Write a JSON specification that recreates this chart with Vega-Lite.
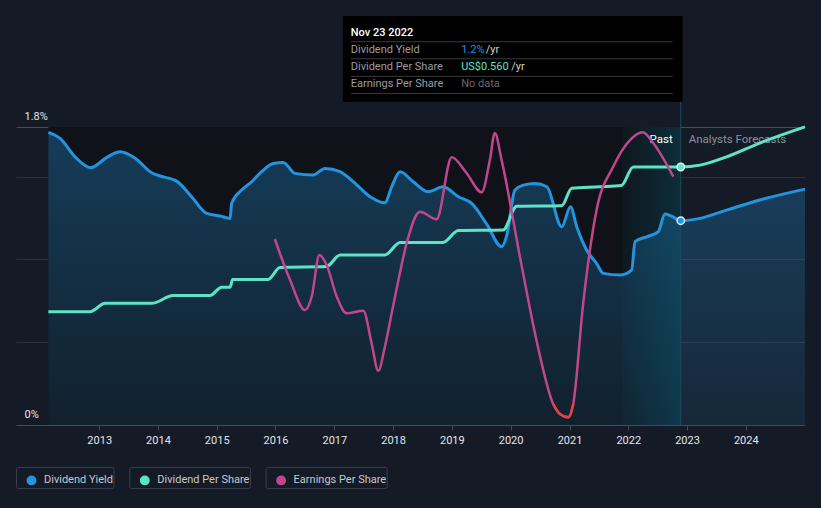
{
  "$schema": "https://vega.github.io/schema/vega-lite/v6.json",
  "width": 789,
  "height": 298,
  "autosize": {"type": "none"},
  "padding": {"left": 16, "top": 127, "right": 16, "bottom": 83},
  "background": "#151b26",
  "config": {"view": {"stroke": null}, "font": "Roboto"},
  "datasets": {
    "tip": [{"date": "2022-11-23", "label": "Nov 23 2022", "yield": 1.234, "dps": 0.56}],
    "yield": [
      {"date": "2012-02-20", "yield": 1.768},
      {"date": "2012-05-03", "yield": 1.731},
      {"date": "2012-08-04", "yield": 1.620},
      {"date": "2012-11-09", "yield": 1.554},
      {"date": "2013-02-18", "yield": 1.617},
      {"date": "2013-05-11", "yield": 1.650},
      {"date": "2013-08-12", "yield": 1.611},
      {"date": "2013-11-23", "yield": 1.524},
      {"date": "2014-01-14", "yield": 1.504},
      {"date": "2014-04-27", "yield": 1.473},
      {"date": "2014-07-29", "yield": 1.379},
      {"date": "2014-10-31", "yield": 1.278},
      {"date": "2015-01-22", "yield": 1.262},
      {"date": "2015-03-25", "yield": 1.248},
      {"date": "2015-04-04", "yield": 1.339},
      {"date": "2015-06-05", "yield": 1.419},
      {"date": "2015-08-06", "yield": 1.469},
      {"date": "2015-10-07", "yield": 1.530},
      {"date": "2015-12-18", "yield": 1.580},
      {"date": "2016-02-18", "yield": 1.586},
      {"date": "2016-05-01", "yield": 1.520},
      {"date": "2016-08-23", "yield": 1.510},
      {"date": "2016-11-03", "yield": 1.550},
      {"date": "2017-02-05", "yield": 1.530},
      {"date": "2017-04-29", "yield": 1.469},
      {"date": "2017-08-11", "yield": 1.379},
      {"date": "2017-11-11", "yield": 1.342},
      {"date": "2017-12-23", "yield": 1.439},
      {"date": "2018-02-13", "yield": 1.530},
      {"date": "2018-05-06", "yield": 1.469},
      {"date": "2018-08-07", "yield": 1.409},
      {"date": "2018-11-07", "yield": 1.439},
      {"date": "2019-02-10", "yield": 1.379},
      {"date": "2019-05-04", "yield": 1.339},
      {"date": "2019-08-05", "yield": 1.214},
      {"date": "2019-11-06", "yield": 1.077},
      {"date": "2019-12-07", "yield": 1.141},
      {"date": "2020-01-28", "yield": 1.419},
      {"date": "2020-03-20", "yield": 1.449},
      {"date": "2020-06-01", "yield": 1.458},
      {"date": "2020-08-13", "yield": 1.439},
      {"date": "2020-11-13", "yield": 1.197},
      {"date": "2021-01-07", "yield": 1.318},
      {"date": "2021-02-15", "yield": 1.197},
      {"date": "2021-04-17", "yield": 1.057},
      {"date": "2021-06-18", "yield": 0.976},
      {"date": "2021-07-30", "yield": 0.916},
      {"date": "2021-11-10", "yield": 0.906},
      {"date": "2022-01-22", "yield": 0.936},
      {"date": "2022-02-12", "yield": 1.107},
      {"date": "2022-04-25", "yield": 1.137},
      {"date": "2022-07-06", "yield": 1.167},
      {"date": "2022-08-17", "yield": 1.274},
      {"date": "2022-09-27", "yield": 1.262},
      {"date": "2022-11-23", "yield": 1.234},
      {"date": "2023-03-23", "yield": 1.248},
      {"date": "2023-09-04", "yield": 1.298},
      {"date": "2024-03-28", "yield": 1.359},
      {"date": "2025-01-03", "yield": 1.425}
    ],
    "dps": [
      {"date": "2012-02-20", "dps": 0.246},
      {"date": "2012-11-05", "dps": 0.246},
      {"date": "2013-02-07", "dps": 0.264},
      {"date": "2013-11-23", "dps": 0.264},
      {"date": "2014-04-06", "dps": 0.281},
      {"date": "2014-11-20", "dps": 0.281},
      {"date": "2015-02-01", "dps": 0.299},
      {"date": "2015-03-25", "dps": 0.299},
      {"date": "2015-04-10", "dps": 0.316},
      {"date": "2015-11-17", "dps": 0.316},
      {"date": "2016-01-29", "dps": 0.342},
      {"date": "2016-11-13", "dps": 0.344},
      {"date": "2017-02-06", "dps": 0.369},
      {"date": "2017-11-11", "dps": 0.369},
      {"date": "2018-02-13", "dps": 0.396},
      {"date": "2018-11-07", "dps": 0.396},
      {"date": "2019-02-10", "dps": 0.422},
      {"date": "2019-11-15", "dps": 0.423},
      {"date": "2020-02-08", "dps": 0.475},
      {"date": "2020-11-13", "dps": 0.476},
      {"date": "2021-01-15", "dps": 0.514},
      {"date": "2021-07-09", "dps": 0.517},
      {"date": "2021-11-20", "dps": 0.520},
      {"date": "2022-02-01", "dps": 0.560},
      {"date": "2022-11-23", "dps": 0.560},
      {"date": "2023-03-23", "dps": 0.564},
      {"date": "2023-09-04", "dps": 0.582},
      {"date": "2024-03-28", "dps": 0.612},
      {"date": "2025-01-03", "dps": 0.647}
    ],
    "eps": [
      {"date": "2015-12-28", "eps": 2.384},
      {"date": "2016-04-01", "eps": 1.792},
      {"date": "2016-07-02", "eps": 1.359},
      {"date": "2016-08-13", "eps": 1.551},
      {"date": "2016-09-30", "eps": 2.153},
      {"date": "2016-11-14", "eps": 2.009},
      {"date": "2017-01-16", "eps": 1.551},
      {"date": "2017-03-18", "eps": 1.312},
      {"date": "2017-06-30", "eps": 1.350},
      {"date": "2017-08-20", "eps": 0.883},
      {"date": "2017-10-01", "eps": 0.483},
      {"date": "2017-11-11", "eps": 0.830},
      {"date": "2017-12-23", "eps": 1.312},
      {"date": "2018-02-03", "eps": 1.792},
      {"date": "2018-03-26", "eps": 2.322},
      {"date": "2018-06-17", "eps": 2.778},
      {"date": "2018-09-28", "eps": 2.668},
      {"date": "2018-12-31", "eps": 3.563},
      {"date": "2019-04-03", "eps": 3.332},
      {"date": "2019-07-05", "eps": 3.058},
      {"date": "2019-08-25", "eps": 3.524},
      {"date": "2019-09-25", "eps": 3.913},
      {"date": "2019-11-06", "eps": 3.524},
      {"date": "2020-02-28", "eps": 2.128},
      {"date": "2020-06-12", "eps": 0.898},
      {"date": "2020-09-22", "eps": 0.0},
      {"date": "2020-11-02", "eps": -0.141},
      {"date": "2020-12-24", "eps": -0.189},
      {"date": "2021-01-24", "eps": 0.0},
      {"date": "2021-03-27", "eps": 1.456},
      {"date": "2021-06-18", "eps": 2.802},
      {"date": "2021-09-29", "eps": 3.427},
      {"date": "2022-01-12", "eps": 3.812},
      {"date": "2022-04-01", "eps": 3.924},
      {"date": "2022-06-06", "eps": 3.765},
      {"date": "2022-10-08", "eps": 3.283}
    ]
  },
  "encoding": {
    "x": {
      "field": "date",
      "type": "temporal",
      "scale": {"domain": [{"year": 2011, "month": 8, "date": 3}, {"year": 2025, "month": 1, "date": 3}], "nice": false},
      "axis": {
        "title": null,
        "values": [
          {"year": 2013, "month": 1, "date": 1}, {"year": 2014, "month": 1, "date": 1},
          {"year": 2015, "month": 1, "date": 1}, {"year": 2016, "month": 1, "date": 1},
          {"year": 2017, "month": 1, "date": 1}, {"year": 2018, "month": 1, "date": 1},
          {"year": 2019, "month": 1, "date": 1}, {"year": 2020, "month": 1, "date": 1},
          {"year": 2021, "month": 1, "date": 1}, {"year": 2022, "month": 1, "date": 1},
          {"year": 2023, "month": 1, "date": 1}, {"year": 2024, "month": 1, "date": 1}
        ],
        "format": "%Y",
        "grid": false,
        "labelFont": "Roboto",
        "labelFontSize": 11,
        "labelColor": "#e3e5e8",
        "labelPadding": 4,
        "labelFlush": false,
        "tickColor": "#454b56",
        "tickSize": 5,
        "domainColor": "#454b56"
      }
    }
  },
  "layer": [
    {
      "data": {"name": "yield"},
      "layer": [
        {
          "data": {"name": "tip"},
          "mark": {"type": "rect", "fill": "#0f1319"},
          "encoding": {
            "x": {"datum": {"year": 2012, "month": 2, "date": 20}, "type": "temporal"},
            "x2": {"field": "date"},
            "y": {"datum": 0, "type": "quantitative"},
            "y2": {"datum": 1.8}
          }
        },
        {
          "mark": {
            "type": "area",
            "interpolate": "monotone",
            "fill": {"gradient": "linear", "x1": 0, "y1": 0, "x2": 0, "y2": 1,
              "stops": [{"offset": 0, "color": "rgba(35,148,223,0.32)"}, {"offset": 1, "color": "rgba(35,148,223,0.10)"}]}
          },
          "encoding": {
            "y": {
              "field": "yield",
              "type": "quantitative",
              "scale": {"domain": [0, 1.8], "nice": false, "zero": false},
              "axis": {
                "title": null,
                "values": [0, 0.5, 1, 1.5, 1.8],
                "labelExpr": "datum.value == 0 || datum.value == 1.8 ? datum.value + '%' : ''",
                "ticks": false,
                "tickSize": 0,
                "domain": false,
                "grid": true,
                "gridColor": {"condition": {"test": "datum.value == 1.8", "value": "rgba(255,255,255,0.22)"}, "value": "rgba(255,255,255,0.09)"},
                "labelAlign": "left",
                "labelBaseline": "alphabetic",
                "labelPadding": -8,
                "labelOffset": -8,
                "labelFont": "Roboto",
                "labelFontSize": 11,
                "labelColor": "#e3e5e8",
                "labelFlush": false,
                "labelBound": false,
                "labelOverlap": false
              }
            }
          }
        },
        {
          "data": {"name": "tip"},
          "mark": {
            "type": "rect",
            "fill": {"gradient": "linear", "x1": 0, "y1": 0, "x2": 1, "y2": 0,
              "stops": [{"offset": 0, "color": "rgba(0,160,200,0.03)"}, {"offset": 1, "color": "rgba(0,160,200,0.19)"}]}
          },
          "encoding": {
            "x": {"datum": {"year": 2021, "month": 11, "date": 23}, "type": "temporal"},
            "x2": {"field": "date"},
            "y": {"datum": 0, "type": "quantitative"},
            "y2": {"datum": 1.8}
          }
        },
        {
          "data": {"name": "tip"},
          "mark": {"type": "rule", "color": "#1c4b5b", "strokeWidth": 1},
          "encoding": {
            "y": {"datum": 0, "type": "quantitative"},
            "y2": {"datum": 2.47}
          }
        },
        {
          "mark": {"type": "line", "interpolate": "monotone", "strokeWidth": 3},
          "encoding": {
            "y": {"field": "yield", "type": "quantitative"},
            "color": {
              "datum": "Dividend Yield",
              "type": "nominal",
              "scale": {"domain": ["Dividend Yield", "Dividend Per Share", "Earnings Per Share"], "range": ["#2394df", "#5de4c7", "#c2468c"]},
              "legend": {
                "orient": "none",
                "legendX": 0,
                "legendY": 339.5,
                "direction": "horizontal",
                "title": null,
                "symbolType": "circle",
                "symbolSize": 70,
                "labelFont": "Roboto",
                "labelFontSize": 11,
                "labelColor": "#c5c8ce",
                "labelLimit": 300,
                "columnPadding": 15.3,
                "padding": 0,
                "offset": 0,
                "encode": {
                  "entries": {"update": {
                    "stroke": {"value": "#3a404b"},
                    "strokeWidth": {"value": 1},
                    "cornerRadius": {"value": 2},
                    "fill": {"value": "transparent"},
                    "width": {"signal": "datum.index == 0 ? 110 : (datum.index == 1 ? 133.5 : 134.5)"},
                    "height": {"value": 27}
                  }},
                  "symbols": {"update": {
                    "x": {"value": 15.5},
                    "y": {"value": 13.5},
                    "fill": {"scale": "color", "field": "value"},
                    "stroke": {"value": "transparent"},
                    "opacity": {"value": 1}
                  }},
                  "labels": {"update": {
                    "x": {"value": 28},
                    "y": {"value": 13.5},
                    "baseline": {"value": "middle"}
                  }}
                }
              }
            }
          }
        },
        {
          "data": {"name": "tip"},
          "mark": {"type": "point", "filled": true, "size": 55, "fill": "#2394df", "stroke": "#e2ebf3", "strokeWidth": 1.5, "opacity": 1, "strokeOpacity": 1},
          "encoding": {"y": {"field": "yield", "type": "quantitative"}}
        },
        {
          "data": {"name": "tip"},
          "mark": {"type": "text", "text": "Past", "align": "right", "baseline": "alphabetic", "dx": -8, "fontSize": 11.5, "color": "#ffffff"},
          "encoding": {"y": {"datum": 1.703, "type": "quantitative"}}
        },
        {
          "data": {"name": "tip"},
          "mark": {"type": "text", "text": "Analysts Forecasts", "align": "left", "baseline": "alphabetic", "dx": 8, "fontSize": 11.5, "color": "#8b9099"},
          "encoding": {"y": {"datum": 1.703, "type": "quantitative"}}
        },
        {
          "data": {"name": "tip"},
          "mark": {"type": "rect", "fill": "#000000", "xOffset": -338, "x2Offset": 2},
          "encoding": {
            "x2": {"field": "date"},
            "y": {"datum": 2.47, "type": "quantitative"},
            "y2": {"datum": 1.953}
          }
        },
        {
          "data": {"name": "tip"},
          "mark": {"type": "rule", "color": "#3a3a3a", "strokeWidth": 1, "xOffset": -330, "x2Offset": -8},
          "encoding": {"x2": {"field": "date"}, "y": {"datum": 2.315, "type": "quantitative"}}
        },
        {
          "data": {"name": "tip"},
          "mark": {"type": "rule", "color": "#3a3a3a", "strokeWidth": 1, "xOffset": -330, "x2Offset": -8},
          "encoding": {"x2": {"field": "date"}, "y": {"datum": 2.212, "type": "quantitative"}}
        },
        {
          "data": {"name": "tip"},
          "mark": {"type": "rule", "color": "#3a3a3a", "strokeWidth": 1, "xOffset": -330, "x2Offset": -8},
          "encoding": {"x2": {"field": "date"}, "y": {"datum": 2.106, "type": "quantitative"}}
        },
        {
          "data": {"name": "tip"},
          "mark": {"type": "rule", "color": "#3a3a3a", "strokeWidth": 1, "xOffset": -330, "x2Offset": -8},
          "encoding": {"x2": {"field": "date"}, "y": {"datum": 2.003, "type": "quantitative"}}
        },
        {
          "data": {"name": "tip"},
          "mark": {"type": "text", "align": "left", "baseline": "alphabetic", "dx": -330, "fontSize": 11, "fontWeight": 500, "color": "#ffffff"},
          "encoding": {"text": {"field": "label"}, "y": {"datum": 2.352, "type": "quantitative"}}
        },
        {
          "data": {"name": "tip"},
          "mark": {"type": "text", "text": "Dividend Yield", "align": "left", "baseline": "alphabetic", "dx": -330, "fontSize": 11, "color": "#9a9da3"},
          "encoding": {"y": {"datum": 2.248, "type": "quantitative"}}
        },
        {
          "data": {"name": "tip"},
          "mark": {"type": "text", "text": "Dividend Per Share", "align": "left", "baseline": "alphabetic", "dx": -330, "fontSize": 11, "color": "#9a9da3"},
          "encoding": {"y": {"datum": 2.144, "type": "quantitative"}}
        },
        {
          "data": {"name": "tip"},
          "mark": {"type": "text", "text": "Earnings Per Share", "align": "left", "baseline": "alphabetic", "dx": -330, "fontSize": 11, "color": "#9a9da3"},
          "encoding": {"y": {"datum": 2.039, "type": "quantitative"}}
        },
        {
          "data": {"name": "tip"},
          "mark": {"type": "text", "text": "1.2%", "align": "left", "baseline": "alphabetic", "dx": -219.6, "fontSize": 11, "color": "#2394df"},
          "encoding": {"y": {"datum": 2.248, "type": "quantitative"}}
        },
        {
          "data": {"name": "tip"},
          "mark": {"type": "text", "text": "/yr", "align": "left", "baseline": "alphabetic", "dx": -195, "fontSize": 11, "color": "#d0d2d6"},
          "encoding": {"y": {"datum": 2.248, "type": "quantitative"}}
        },
        {
          "data": {"name": "tip"},
          "mark": {"type": "text", "text": "US$0.560", "align": "left", "baseline": "alphabetic", "dx": -219.6, "fontSize": 11, "color": "#5de4c7"},
          "encoding": {"y": {"datum": 2.144, "type": "quantitative"}}
        },
        {
          "data": {"name": "tip"},
          "mark": {"type": "text", "text": "/yr", "align": "left", "baseline": "alphabetic", "dx": -169.6, "fontSize": 11, "color": "#d0d2d6"},
          "encoding": {"y": {"datum": 2.144, "type": "quantitative"}}
        },
        {
          "data": {"name": "tip"},
          "mark": {"type": "text", "text": "No data", "align": "left", "baseline": "alphabetic", "dx": -219.6, "fontSize": 11, "color": "#65686e"},
          "encoding": {"y": {"datum": 2.039, "type": "quantitative"}}
        }
      ]
    },
    {
      "data": {"name": "dps"},
      "layer": [
        {
          "mark": {"type": "line", "interpolate": "monotone", "strokeWidth": 3},
          "encoding": {
            "y": {"field": "dps", "type": "quantitative", "scale": {"domain": [0, 0.6468], "nice": false, "zero": false}, "axis": null},
            "color": {"datum": "Dividend Per Share", "type": "nominal"}
          }
        },
        {
          "data": {"name": "tip"},
          "mark": {"type": "point", "filled": true, "size": 55, "fill": "#5de4c7", "stroke": "#e2f5f0", "strokeWidth": 1.5, "opacity": 1, "strokeOpacity": 1},
          "encoding": {"y": {"field": "dps", "type": "quantitative", "axis": null}}
        }
      ]
    },
    {
      "data": {"name": "eps"},
      "layer": [
        {
          "mark": {"type": "line", "interpolate": "monotone", "strokeWidth": 2.5},
          "encoding": {
            "y": {"field": "eps", "type": "quantitative", "scale": {"domain": [-0.3, 4.0], "nice": false, "zero": false}, "axis": null},
            "color": {"datum": "Earnings Per Share", "type": "nominal"}
          }
        },
        {
          "transform": [{"filter": "datum.eps <= 0"}],
          "mark": {"type": "line", "interpolate": "monotone", "strokeWidth": 2.5, "color": "#e8413c"},
          "encoding": {"y": {"field": "eps", "type": "quantitative", "axis": null}}
        }
      ]
    }
  ],
  "resolve": {"scale": {"y": "independent"}}
}
